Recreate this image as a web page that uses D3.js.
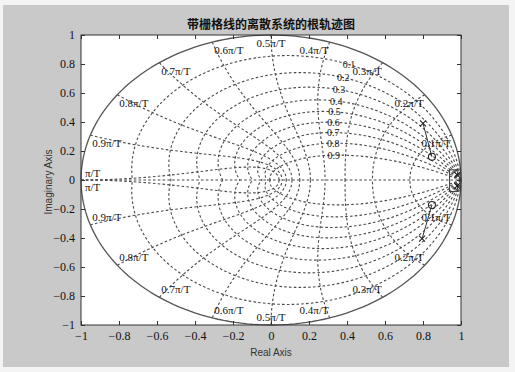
<!DOCTYPE html>
<html>
<head>
<meta charset="utf-8">
<script src="https://cdn.jsdelivr.net/npm/d3@7"></script>
<style>
  html, body { margin: 0; padding: 0; background: #f4f4f4; }
  svg { display: block; }
  .axis path { display: none; }
  .axis line { stroke: #333; }
  .axis text { font-family: "Liberation Serif", "DejaVu Serif", serif; font-size: 12px; fill: #111; }
  .grid { fill: none; stroke: #4a4a4a; stroke-width: 1.1; stroke-dasharray: 2.6 2.2; }
  .glabel { font-family: "Liberation Serif", "DejaVu Serif", serif; font-size: 11px; fill: #111; }
  .zlabel { font-family: "Liberation Serif", "DejaVu Serif", serif; font-size: 10px; fill: #111; }
</style>
</head>
<body>
<svg id="chart" width="515" height="372"></svg>
<script>
// values
const zetaValues = [0.1, 0.2, 0.3, 0.4, 0.5, 0.6, 0.7, 0.8, 0.9]
const zetaLabels = ['0.1', '0.2', '0.3', '0.4', '0.5', '0.6', '0.7', '0.8', '0.9']
const wnValues = [0.1, 0.2, 0.3, 0.4, 0.5, 0.6, 0.7, 0.8, 0.9, 1.0] // x pi/T
const wnLabels = ['0.1π/T', '0.2π/T', '0.3π/T', '0.4π/T', '0.5π/T',
  '0.6π/T', '0.7π/T', '0.8π/T', '0.9π/T', 'π/T']
const xTicks = [-1, -0.8, -0.6, -0.4, -0.2, 0, 0.2, 0.4, 0.6, 0.8, 1]
const yTicks = [-1, -0.8, -0.6, -0.4, -0.2, 0, 0.2, 0.4, 0.6, 0.8, 1]

const poles = [[0.8, 0.39], [0.795, -0.405], [0.98, 0.035], [0.98, -0.04]]
const zeros = [[0.847, 0.16], [0.847, -0.172]]
const locusBranches = [
  [[0.8, 0.39], [0.847, 0.16]],
  [[0.795, -0.405], [0.847, -0.172]],
  [[0.98, 0.035], [0.985, 0.07], [0.94, 0.07], [0.94, -0.08], [0.985, -0.08], [0.98, -0.04]]
]

const titleText = '带栅格线的离散系统的根轨迹图'

//

const svg = d3.select('#chart')
const plotLeft = 81, plotRight = 461, plotTop = 35, plotBottom = 325

svg.append('rect')
  .attr('x', 3).attr('y', 5).attr('width', 506).attr('height', 362)
  .attr('fill', '#c9c9c9')

const x = d3.scaleLinear().domain([-1, 1]).range([plotLeft, plotRight])
const y = d3.scaleLinear().domain([-1, 1]).range([plotBottom, plotTop])

svg.append('rect')
  .attr('x', plotLeft).attr('y', plotTop)
  .attr('width', plotRight - plotLeft).attr('height', plotBottom - plotTop)
  .attr('fill', '#fff')

const plot = svg.append('g')
const line = d3.line().x(d => x(d[0])).y(d => y(d[1]))

// damping ratio spirals
zetaValues.forEach(function (zeta) {
  const m = Math.tan(Math.asin(zeta))
  const pts = d3.range(0, 121).map(i => {
    const th = Math.PI * i / 120
    const r = Math.exp(-m * th)
    return [r * Math.cos(th), r * Math.sin(th)]
  })
  plot.append('path').attr('class', 'grid').attr('d', line(pts))
  plot.append('path').attr('class', 'grid').attr('d', line(pts.map(p => [p[0], -p[1]])))
})

// natural frequency curves
wnValues.forEach(function (wn) {
  const w = wn * Math.PI
  const pts = d3.range(0, 81).map(i => {
    const z = i / 80
    const r = Math.exp(-z * w)
    const a = w * Math.sqrt(1 - z * z)
    return [r * Math.cos(a), r * Math.sin(a)]
  })
  plot.append('path').attr('class', 'grid').attr('d', line(pts))
  plot.append('path').attr('class', 'grid').attr('d', line(pts.map(p => [p[0], -p[1]])))
})

plot.append('path').attr('class', 'grid').attr('d', line([[-1, 0], [1, 0]]))

// unit circle
plot.append('path')
  .attr('d', line(d3.range(0, 201).map(i => [Math.cos(2 * Math.PI * i / 200), Math.sin(2 * Math.PI * i / 200)])))
  .attr('fill', 'none').attr('stroke', '#555').attr('stroke-width', 1.3)

// zeta labels at wn = 0.35 pi/T
zetaValues.forEach(function (zeta, i) {
  const w = 0.35 * Math.PI
  const r = Math.exp(-zeta * w)
  const a = w * Math.sqrt(1 - zeta * zeta)
  plot.append('text').attr('class', 'zlabel')
    .attr('x', x(r * Math.cos(a)))
    .attr('y', y(r * Math.sin(a)))
    .attr('text-anchor', 'middle')
    .attr('dominant-baseline', 'central')
    .text(zetaLabels[i])
})

// wn labels on the unit circle
wnValues.forEach(function (wn, i) {
  const px = Math.cos(wn * Math.PI)
  const py = Math.sin(wn * Math.PI)
  const anchor = px > 0.05 ? 'end' : (px < -0.05 ? 'start' : 'middle')
  const dx = anchor === 'end' ? -1 : (anchor === 'start' ? (wn === 1 ? 4 : 2) : 0)
  const onAxis = Math.abs(py) < 0.01
  ;[1, -1].forEach(function (s) {
    const dy = onAxis ? -7 * s : 8 * s
    plot.append('text').attr('class', 'glabel')
      .attr('x', x(px) + dx)
      .attr('y', y(s * py) + dy)
      .attr('text-anchor', anchor)
      .attr('dominant-baseline', 'central')
      .text(wnLabels[i])
  })
})

// root locus
locusBranches.forEach(function (b) {
  plot.append('path').attr('d', line(b))
    .attr('fill', 'none').attr('stroke', '#333').attr('stroke-width', 1)
})
poles.forEach(function (p) {
  plot.append('path')
    .attr('d', `M${x(p[0]) - 3},${y(p[1]) - 3}L${x(p[0]) + 3},${y(p[1]) + 3}M${x(p[0]) - 3},${y(p[1]) + 3}L${x(p[0]) + 3},${y(p[1]) - 3}`)
    .attr('stroke', '#222').attr('stroke-width', 1.1)
})
zeros.forEach(function (p) {
  plot.append('circle').attr('cx', x(p[0])).attr('cy', y(p[1])).attr('r', 3.5)
    .attr('fill', 'none').attr('stroke', '#222').attr('stroke-width', 1.1)
})

// axes box + ticks
const fmt = d => d === 0 ? '0' : (d < 0 ? '\u2212' : '') + String(Math.abs(d))

svg.append('g').attr('class', 'axis').attr('transform', `translate(0,${plotBottom})`)
  .call(d3.axisBottom(x).tickValues(xTicks).tickFormat(fmt).tickSizeInner(-4).tickSizeOuter(0).tickPadding(6))
svg.append('g').attr('class', 'axis').attr('transform', `translate(0,${plotTop})`)
  .call(d3.axisTop(x).tickValues(xTicks).tickFormat('').tickSizeInner(-4).tickSizeOuter(0))
svg.append('g').attr('class', 'axis').attr('transform', `translate(${plotLeft},0)`)
  .call(d3.axisLeft(y).tickValues(yTicks).tickFormat(fmt).tickSizeInner(-4).tickSizeOuter(0).tickPadding(6))
svg.append('g').attr('class', 'axis').attr('transform', `translate(${plotRight},0)`)
  .call(d3.axisRight(y).tickValues(yTicks).tickFormat('').tickSizeInner(-4).tickSizeOuter(0))

svg.append('rect')
  .attr('x', plotLeft).attr('y', plotTop)
  .attr('width', plotRight - plotLeft).attr('height', plotBottom - plotTop)
  .attr('fill', 'none').attr('stroke', '#333').attr('stroke-width', 1)

svg.append('text')
  .attr('x', 271).attr('y', 23)
  .attr('text-anchor', 'middle').attr('dominant-baseline', 'central')
  .attr('font-family', '"Noto Sans CJK SC", sans-serif')
  .attr('font-size', 12).attr('font-weight', 'bold').attr('fill', '#111')
  .text(titleText)

svg.append('text')
  .attr('x', 271).attr('y', 352)
  .attr('text-anchor', 'middle').attr('dominant-baseline', 'central')
  .attr('font-family', '"Liberation Sans", Arial, sans-serif')
  .attr('font-size', 10).attr('fill', '#333')
  .text('Real Axis')

svg.append('text')
  .attr('transform', 'translate(48,182) rotate(-90)')
  .attr('text-anchor', 'middle').attr('dominant-baseline', 'central')
  .attr('font-family', '"Liberation Sans", Arial, sans-serif')
  .attr('font-size', 10).attr('fill', '#333')
  .text('Imaginary Axis')
</script>
</body>
</html>
